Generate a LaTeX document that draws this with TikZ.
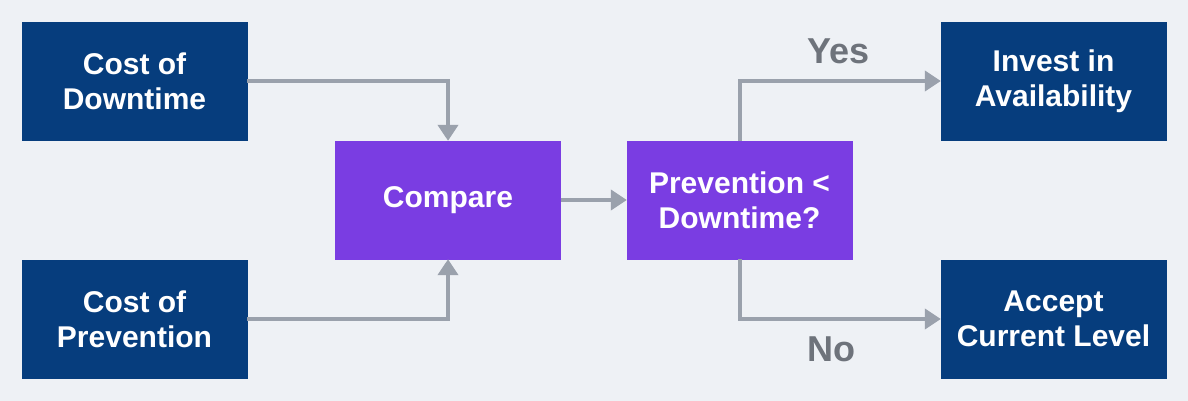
\documentclass[tikz,border=0pt]{standalone}
\usepackage{fontspec}
\setmainfont{Liberation Sans}
\usepackage{xcolor}
\usetikzlibrary{arrows.meta, positioning}
\definecolor{navy}{HTML}{063D7D}
\definecolor{violet}{HTML}{7A3DE2}
\definecolor{linegray}{HTML}{9AA1AC}
\definecolor{labelgray}{HTML}{6E737B}
\definecolor{bggray}{HTML}{EEF1F5}

\begin{document}
\begin{tikzpicture}[
  x=1pt, y=-1pt,
  input/.style={rectangle, draw=navy, fill=navy, text=white,
                minimum width=225pt, minimum height=118pt,
                align=center, font=\fontsize{30}{35}\selectfont\bfseries},
  proc/.style={rectangle, draw=violet, fill=violet, text=white,
               minimum width=225pt, minimum height=118pt,
               align=center, font=\fontsize{30}{35}\selectfont\bfseries},
  arr/.style={-{Triangle[length=16pt, width=20pt]}, line width=4pt, linegray},
  lbl/.style={font=\fontsize{36}{40}\selectfont\bfseries, text=labelgray},
]

% Fondo
\fill[bggray] (0,0) rectangle (1188,401);
\useasboundingbox (0,0) rectangle (1188,401);

% Entradas (izquierda)
\node[input] at (134.5, 81)   (downtime)   {Cost of\\Downtime};
\node[input] at (134.5, 319)  (prevention) {Cost of\\Prevention};

% Centro
\node[proc]  at (448, 200)    (compare)    {Compare};
\node[proc]  at (739.5, 200)  (decision)   {Prevention <\\Downtime?};

% Resultados (derecha)
\node[input] at (1053.5, 81)  (invest)     {Invest in\\Availability};
\node[input] at (1053.5, 319) (accept)     {Accept\\Current Level};

% Flechas hacia compare
\draw[arr] (downtime.east)   -| (compare.north);
\draw[arr] (prevention.east) -| (compare.south);
\draw[arr] (compare) -- (decision);

% Decision -> resultados
\draw[arr] (decision.north) |- node[lbl, above=12pt, pos=0.75, xshift=-2pt]{Yes} (invest.west);
\draw[arr] (decision.south) |- node[lbl, below=12pt, pos=0.75, xshift=-9pt]{No} (accept.west);

\end{tikzpicture}
\end{document}
